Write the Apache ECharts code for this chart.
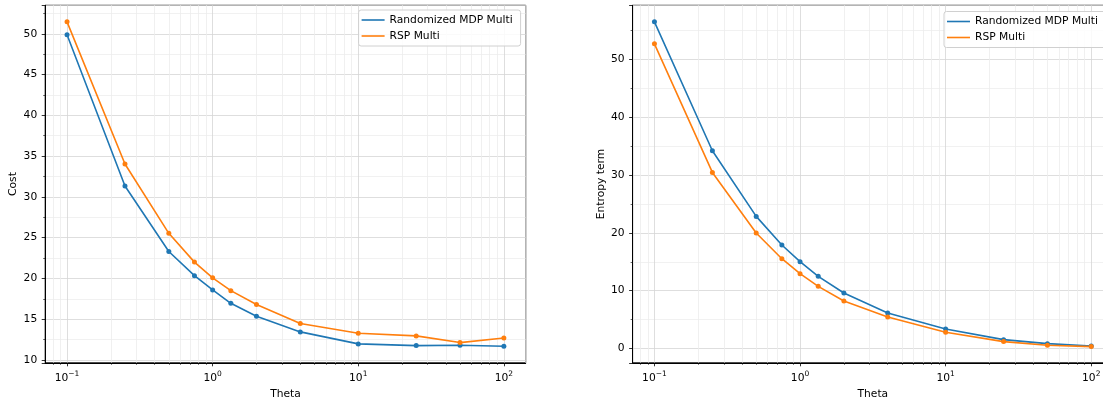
<!DOCTYPE html>
<html>
<head>
<meta charset="utf-8">
<script src="https://cdn.jsdelivr.net/npm/echarts@6/dist/echarts.min.js"></script>
<style>
  html, body { margin: 0; padding: 0; background: #fff; }
  #chart { width: 1103px; height: 398px; }
</style>
</head>
<body>
<div id="chart"></div>
<script>
// values
const theta = [0.1, 0.25, 0.5, 0.75, 1, 1.333, 2, 4, 10, 25, 50, 100];
const costMdp = [49.88, 31.33, 23.3, 20.34, 18.59, 16.95, 15.36, 13.44, 11.97, 11.76, 11.8, 11.68];
const costRsp = [51.47, 34.03, 25.53, 22.0, 20.07, 18.5, 16.8, 14.47, 13.27, 12.95, 12.13, 12.7];
const entropyMdp = [56.44, 34.17, 22.84, 17.9, 15.02, 12.48, 9.61, 6.16, 3.39, 1.55, 0.86, 0.46];
const entropyRsp = [52.64, 30.43, 19.97, 15.53, 12.94, 10.76, 8.23, 5.47, 2.82, 1.21, 0.58, 0.35];
const seriesNames = ['Randomized MDP Multi', 'RSP Multi'];
const colors = ['#1f77b4', '#ff7f0e'];
// minor log ticks (2..9 of each decade)
const xMinor = [0.08, 0.09, 0.2, 0.3, 0.4, 0.5, 0.6, 0.7, 0.8, 0.9,
  2, 3, 4, 5, 6, 7, 8, 9, 20, 30, 40, 50, 60, 70, 80, 90];

const FONT = 'DejaVu Sans';
const FS = 10.7;
const X_MIN = Math.pow(10, -1.15);
const X_MAX = Math.pow(10, 2.15);

const pairs = (ys) => theta.map((t, i) => [t, ys[i]]);

const logLabel = (v) => {
  const e = Math.log10(v);
  const r = Math.round(e);
  if (Math.abs(e - r) > 0.01) return '';
  return '{b|10}{s|' + (r < 0 ? '\u2212' + (-r) : r) + '}';
};

function xAxisFor(gridIndex) {
  return {
    type: 'log',
    logBase: 10,
    gridIndex,
    min: X_MIN,
    max: X_MAX,
    name: 'Theta',
    nameLocation: 'middle',
    nameGap: 18,
    nameTextStyle: { fontFamily: FONT, fontSize: FS, color: '#000' },
    axisLine: { show: true, onZero: false, lineStyle: { color: '#000', width: 1 } },
    axisTick: { show: true, length: 3.5, lineStyle: { color: '#000', width: 0.8 } },
    minorTick: { show: false },
    splitLine: { show: true, lineStyle: { color: '#d6d6d6', width: 0.8 } },
    minorSplitLine: { show: false },
    axisLabel: {
      showMinLabel: false,
      showMaxLabel: false,
      margin: 7,
      formatter: logLabel,
      rich: {
        b: { fontFamily: FONT, fontSize: FS, color: '#000', lineHeight: 14, verticalAlign: 'bottom' },
        s: { fontFamily: FONT, fontSize: 7.5, color: '#000', lineHeight: 9, verticalAlign: 'top' }
      }
    }
  };
}

// second log axis on the same grid, only for the small minor tick marks
function xMinorAxisFor(gridIndex) {
  return {
    type: 'log',
    logBase: 10,
    gridIndex,
    position: 'bottom',
    min: X_MIN,
    max: X_MAX,
    axisLine: { show: false, onZero: false },
    axisTick: { show: true, length: 2, customValues: xMinor, lineStyle: { color: '#000', width: 0.6 } },
    axisLabel: { show: false },
    splitLine: { show: false }
  };
}

function yAxisFor(gridIndex, name, min, max, splitNumber, step) {
  return {
    type: 'value',
    gridIndex,
    min,
    max,
    splitNumber,
    name,
    nameLocation: 'middle',
    nameGap: 26,
    nameTextStyle: { fontFamily: FONT, fontSize: FS, color: '#000' },
    axisLine: { show: true, onZero: false, lineStyle: { color: '#000', width: 1 } },
    axisTick: { show: true, length: 3.5, lineStyle: { color: '#000', width: 0.8 } },
    minorTick: { show: true, splitNumber: 2, length: 2, lineStyle: { color: '#000', width: 0.6 } },
    splitLine: { show: true, lineStyle: { color: '#d6d6d6', width: 0.8 } },
    minorSplitLine: { show: true, lineStyle: { color: '#eeeeee', width: 0.8 } },
    axisLabel: {
      showMinLabel: false,
      showMaxLabel: false,
      margin: 8,
      fontFamily: FONT,
      fontSize: FS,
      color: '#000',
      formatter: (v) => (Math.abs(v / step - Math.round(v / step)) < 1e-6 ? String(Math.round(v)) : '')
    }
  };
}

function lineSeries(i, ys, axisIndex) {
  return {
    type: 'line',
    name: seriesNames[i],
    xAxisIndex: axisIndex,
    yAxisIndex: axisIndex,
    data: pairs(ys),
    symbol: 'circle',
    symbolSize: 5,
    showSymbol: true,
    color: colors[i],
    lineStyle: { color: colors[i], width: 1.6 },
    itemStyle: { color: colors[i] },
    z: 3,
    animation: false
  };
}

// carrier for the minor vertical gridlines of the log axis
function minorGridSeries(axisIndex) {
  return {
    type: 'line',
    name: 'minor-grid-' + axisIndex,
    xAxisIndex: axisIndex,
    yAxisIndex: axisIndex,
    data: [],
    z: 0,
    silent: true,
    markLine: {
      z: 0,
      silent: true,
      symbol: ['none', 'none'],
      label: { show: false },
      lineStyle: { color: '#ececec', width: 0.8, type: 'solid' },
      emphasis: { disabled: true },
      animation: false,
      data: xMinor.map((v) => ({ xAxis: v }))
    }
  };
}

function legendFor(left, top) {
  return {
    z: 20,
    orient: 'vertical',
    left,
    top,
    data: seriesNames,
    icon: 'rect',
    itemWidth: 23,
    itemHeight: 1.6,
    itemGap: 3,
    padding: [3.5, 8, 3.5, 3],
    backgroundColor: 'rgba(255,255,255,0.85)',
    borderColor: '#d0d0d0',
    borderWidth: 1,
    borderRadius: 2.5,
    textStyle: { fontFamily: FONT, fontSize: FS, color: '#000', lineHeight: 13 },
    selectedMode: false
  };
}

const gridBase = {
  top: 5.3, width: 480.5, height: 357.5, show: true,
  borderColor: '#000', borderWidth: 1, backgroundColor: 'transparent',
  containLabel: false, outerBoundsMode: 'none'
};

const chart = echarts.init(document.getElementById('chart'), null, { renderer: 'canvas' });
chart.setOption({
  animation: false,
  backgroundColor: '#fff',
  grid: [
    Object.assign({ left: 45.2 }, gridBase),
    Object.assign({ left: 632.6 }, gridBase)
  ],
  xAxis: [xAxisFor(0), xAxisFor(1), xMinorAxisFor(0), xMinorAxisFor(1)],
  yAxis: [
    yAxisFor(0, 'Cost', 9.65, 53.5, 9, 5),
    yAxisFor(1, 'Entropy term', -2.45, 59.3, 5, 10)
  ],
  legend: [legendFor(358.6, 10), legendFor(944, 11.5)],
  series: [
    minorGridSeries(0),
    minorGridSeries(1),
    lineSeries(0, costMdp, 0),
    lineSeries(1, costRsp, 0),
    lineSeries(0, entropyMdp, 1),
    lineSeries(1, entropyRsp, 1)
  ]
});
</script>
</body>
</html>
